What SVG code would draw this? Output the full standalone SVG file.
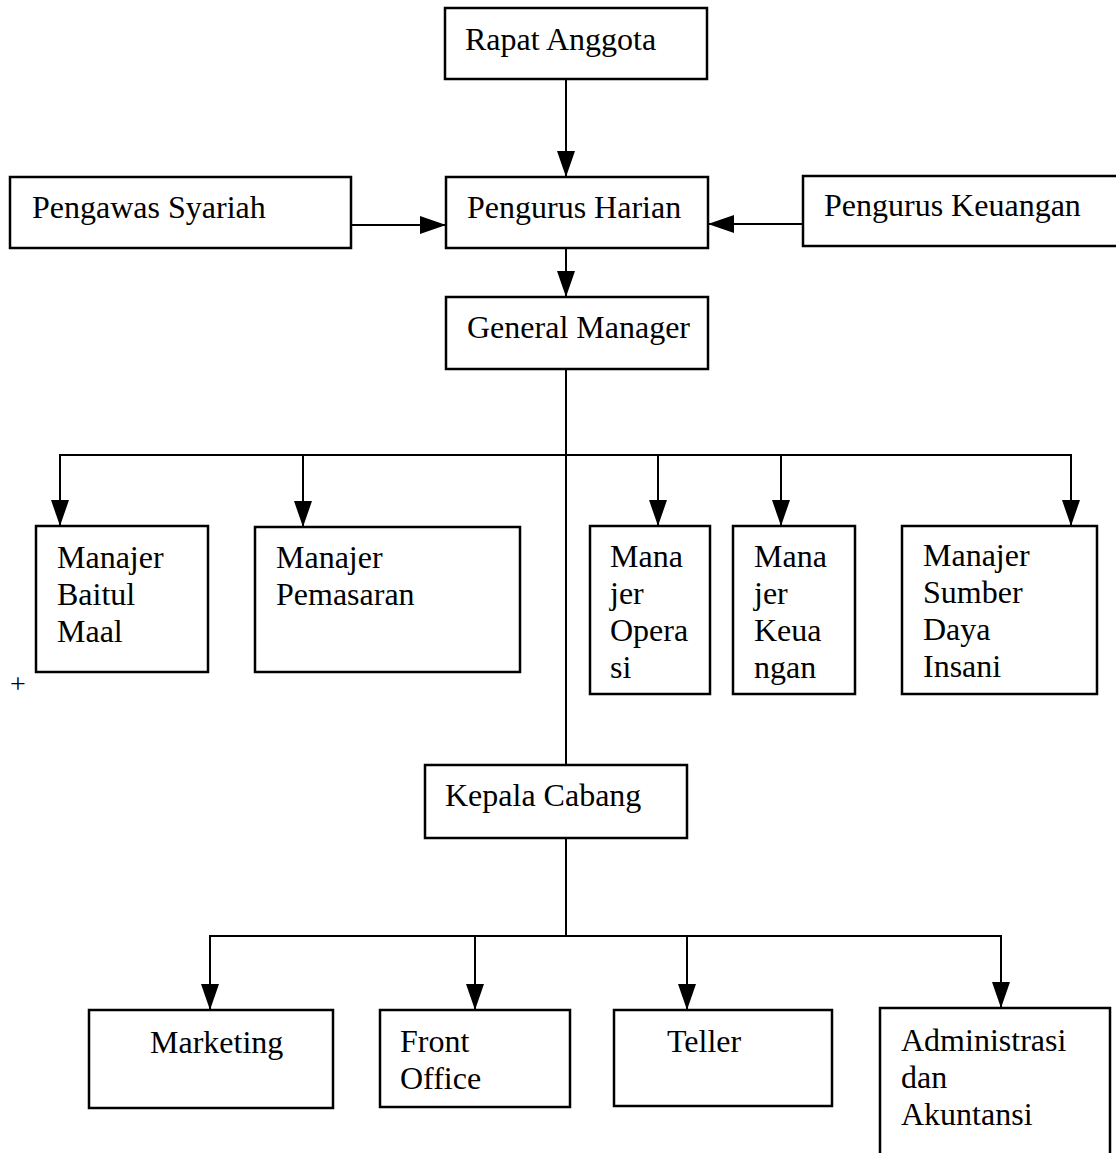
<svg xmlns="http://www.w3.org/2000/svg" width="1116" height="1153" viewBox="0 0 1116 1153">
<style>
.box{fill:#fff;stroke:#000;stroke-width:2.5}
.t{font-family:"Liberation Serif","Times New Roman",serif;font-size:32px;fill:#000}
.ln{fill:none;stroke:#000;stroke-width:2}
</style>
<defs>
<marker id="ah" viewBox="0 0 26 18" markerUnits="userSpaceOnUse" markerWidth="26" markerHeight="18" refX="26" refY="9" orient="auto">
<path d="M0,0 L26,9 L0,18 z" fill="#000"/>
</marker>
</defs>
<rect width="1116" height="1153" fill="#fff"/>
<g id="connectors">
<line class="ln" x1="566" y1="79" x2="566" y2="177" marker-end="url(#ah)"/>
<line class="ln" x1="351" y1="225" x2="446" y2="225" marker-end="url(#ah)"/>
<line class="ln" x1="803" y1="224" x2="708" y2="224" marker-end="url(#ah)"/>
<line class="ln" x1="566" y1="248" x2="566" y2="297" marker-end="url(#ah)"/>
<line class="ln" x1="566" y1="369" x2="566" y2="765"/>
<polyline class="ln" points="60,455 1071,455"/>
<line class="ln" x1="60" y1="454" x2="60" y2="526" marker-end="url(#ah)"/>
<line class="ln" x1="303" y1="455" x2="303" y2="527" marker-end="url(#ah)"/>
<line class="ln" x1="658" y1="455" x2="658" y2="526" marker-end="url(#ah)"/>
<line class="ln" x1="781" y1="455" x2="781" y2="526" stroke-width="1.2" marker-end="url(#ah)"/>
<line class="ln" x1="1071" y1="454" x2="1071" y2="526" marker-end="url(#ah)"/>
<line class="ln" x1="566" y1="838" x2="566" y2="936"/>
<polyline class="ln" points="210,936 1001,936"/>
<line class="ln" x1="210" y1="935" x2="210" y2="1010" marker-end="url(#ah)"/>
<line class="ln" x1="475" y1="936" x2="475" y2="1010" marker-end="url(#ah)"/>
<line class="ln" x1="687" y1="936" x2="687" y2="1010" marker-end="url(#ah)"/>
<line class="ln" x1="1001" y1="935" x2="1001" y2="1008" marker-end="url(#ah)"/>
</g>
<g id="rapat-anggota"><rect class="box" x="445" y="8" width="262" height="71"/><text class="t" x="465" y="50">Rapat Anggota</text></g>
<g id="pengawas-syariah"><rect class="box" x="10" y="177" width="341" height="71"/><text class="t" x="32" y="218">Pengawas Syariah</text></g>
<g id="pengurus-harian"><rect class="box" x="446" y="177" width="262" height="71"/><text class="t" x="467" y="218">Pengurus Harian</text></g>
<g id="pengurus-keuangan"><rect class="box" x="803" y="176" width="330" height="70"/><text class="t" x="824" y="216">Pengurus Keuangan</text></g>
<g id="general-manager"><rect class="box" x="446" y="297" width="262" height="72"/><text class="t" x="467" y="338">General Manager</text></g>
<g id="manajer-baitul-maal"><rect class="box" x="36" y="526" width="172" height="146"/><text class="t" x="57" y="568">Manajer</text><text class="t" x="57" y="605">Baitul</text><text class="t" x="57" y="642">Maal</text></g>
<g id="manajer-pemasaran"><rect class="box" x="255" y="527" width="265" height="145"/><text class="t" x="276" y="568">Manajer</text><text class="t" x="276" y="605">Pemasaran</text></g>
<g id="manajer-operasi"><rect class="box" x="590" y="526" width="120" height="168"/><text class="t" x="610" y="567">Mana</text><text class="t" x="610" y="604">jer</text><text class="t" x="610" y="641">Opera</text><text class="t" x="610" y="678">si</text></g>
<g id="manajer-keuangan"><rect class="box" x="733" y="526" width="122" height="168"/><text class="t" x="754" y="567">Mana</text><text class="t" x="754" y="604">jer</text><text class="t" x="754" y="641">Keua</text><text class="t" x="754" y="678">ngan</text></g>
<g id="manajer-sdi"><rect class="box" x="902" y="526" width="195" height="168"/><text class="t" x="923" y="566">Manajer</text><text class="t" x="923" y="603">Sumber</text><text class="t" x="923" y="640">Daya</text><text class="t" x="923" y="677">Insani</text></g>
<text class="t" x="10" y="693" style="font-size:28px">+</text>
<g id="kepala-cabang"><rect class="box" x="425" y="765" width="262" height="73"/><text class="t" x="445" y="806">Kepala Cabang</text></g>
<g id="marketing"><rect class="box" x="89" y="1010" width="244" height="98"/><text class="t" x="150" y="1053">Marketing</text></g>
<g id="front-office"><rect class="box" x="380" y="1010" width="190" height="97"/><text class="t" x="400" y="1052">Front</text><text class="t" x="400" y="1089">Office</text></g>
<g id="teller"><rect class="box" x="614" y="1010" width="218" height="96"/><text class="t" x="667" y="1052">Teller</text></g>
<g id="administrasi"><rect class="box" x="880" y="1008" width="230" height="160"/><text class="t" x="901" y="1051">Administrasi</text><text class="t" x="901" y="1088">dan</text><text class="t" x="901" y="1125">Akuntansi</text></g>
</svg>
